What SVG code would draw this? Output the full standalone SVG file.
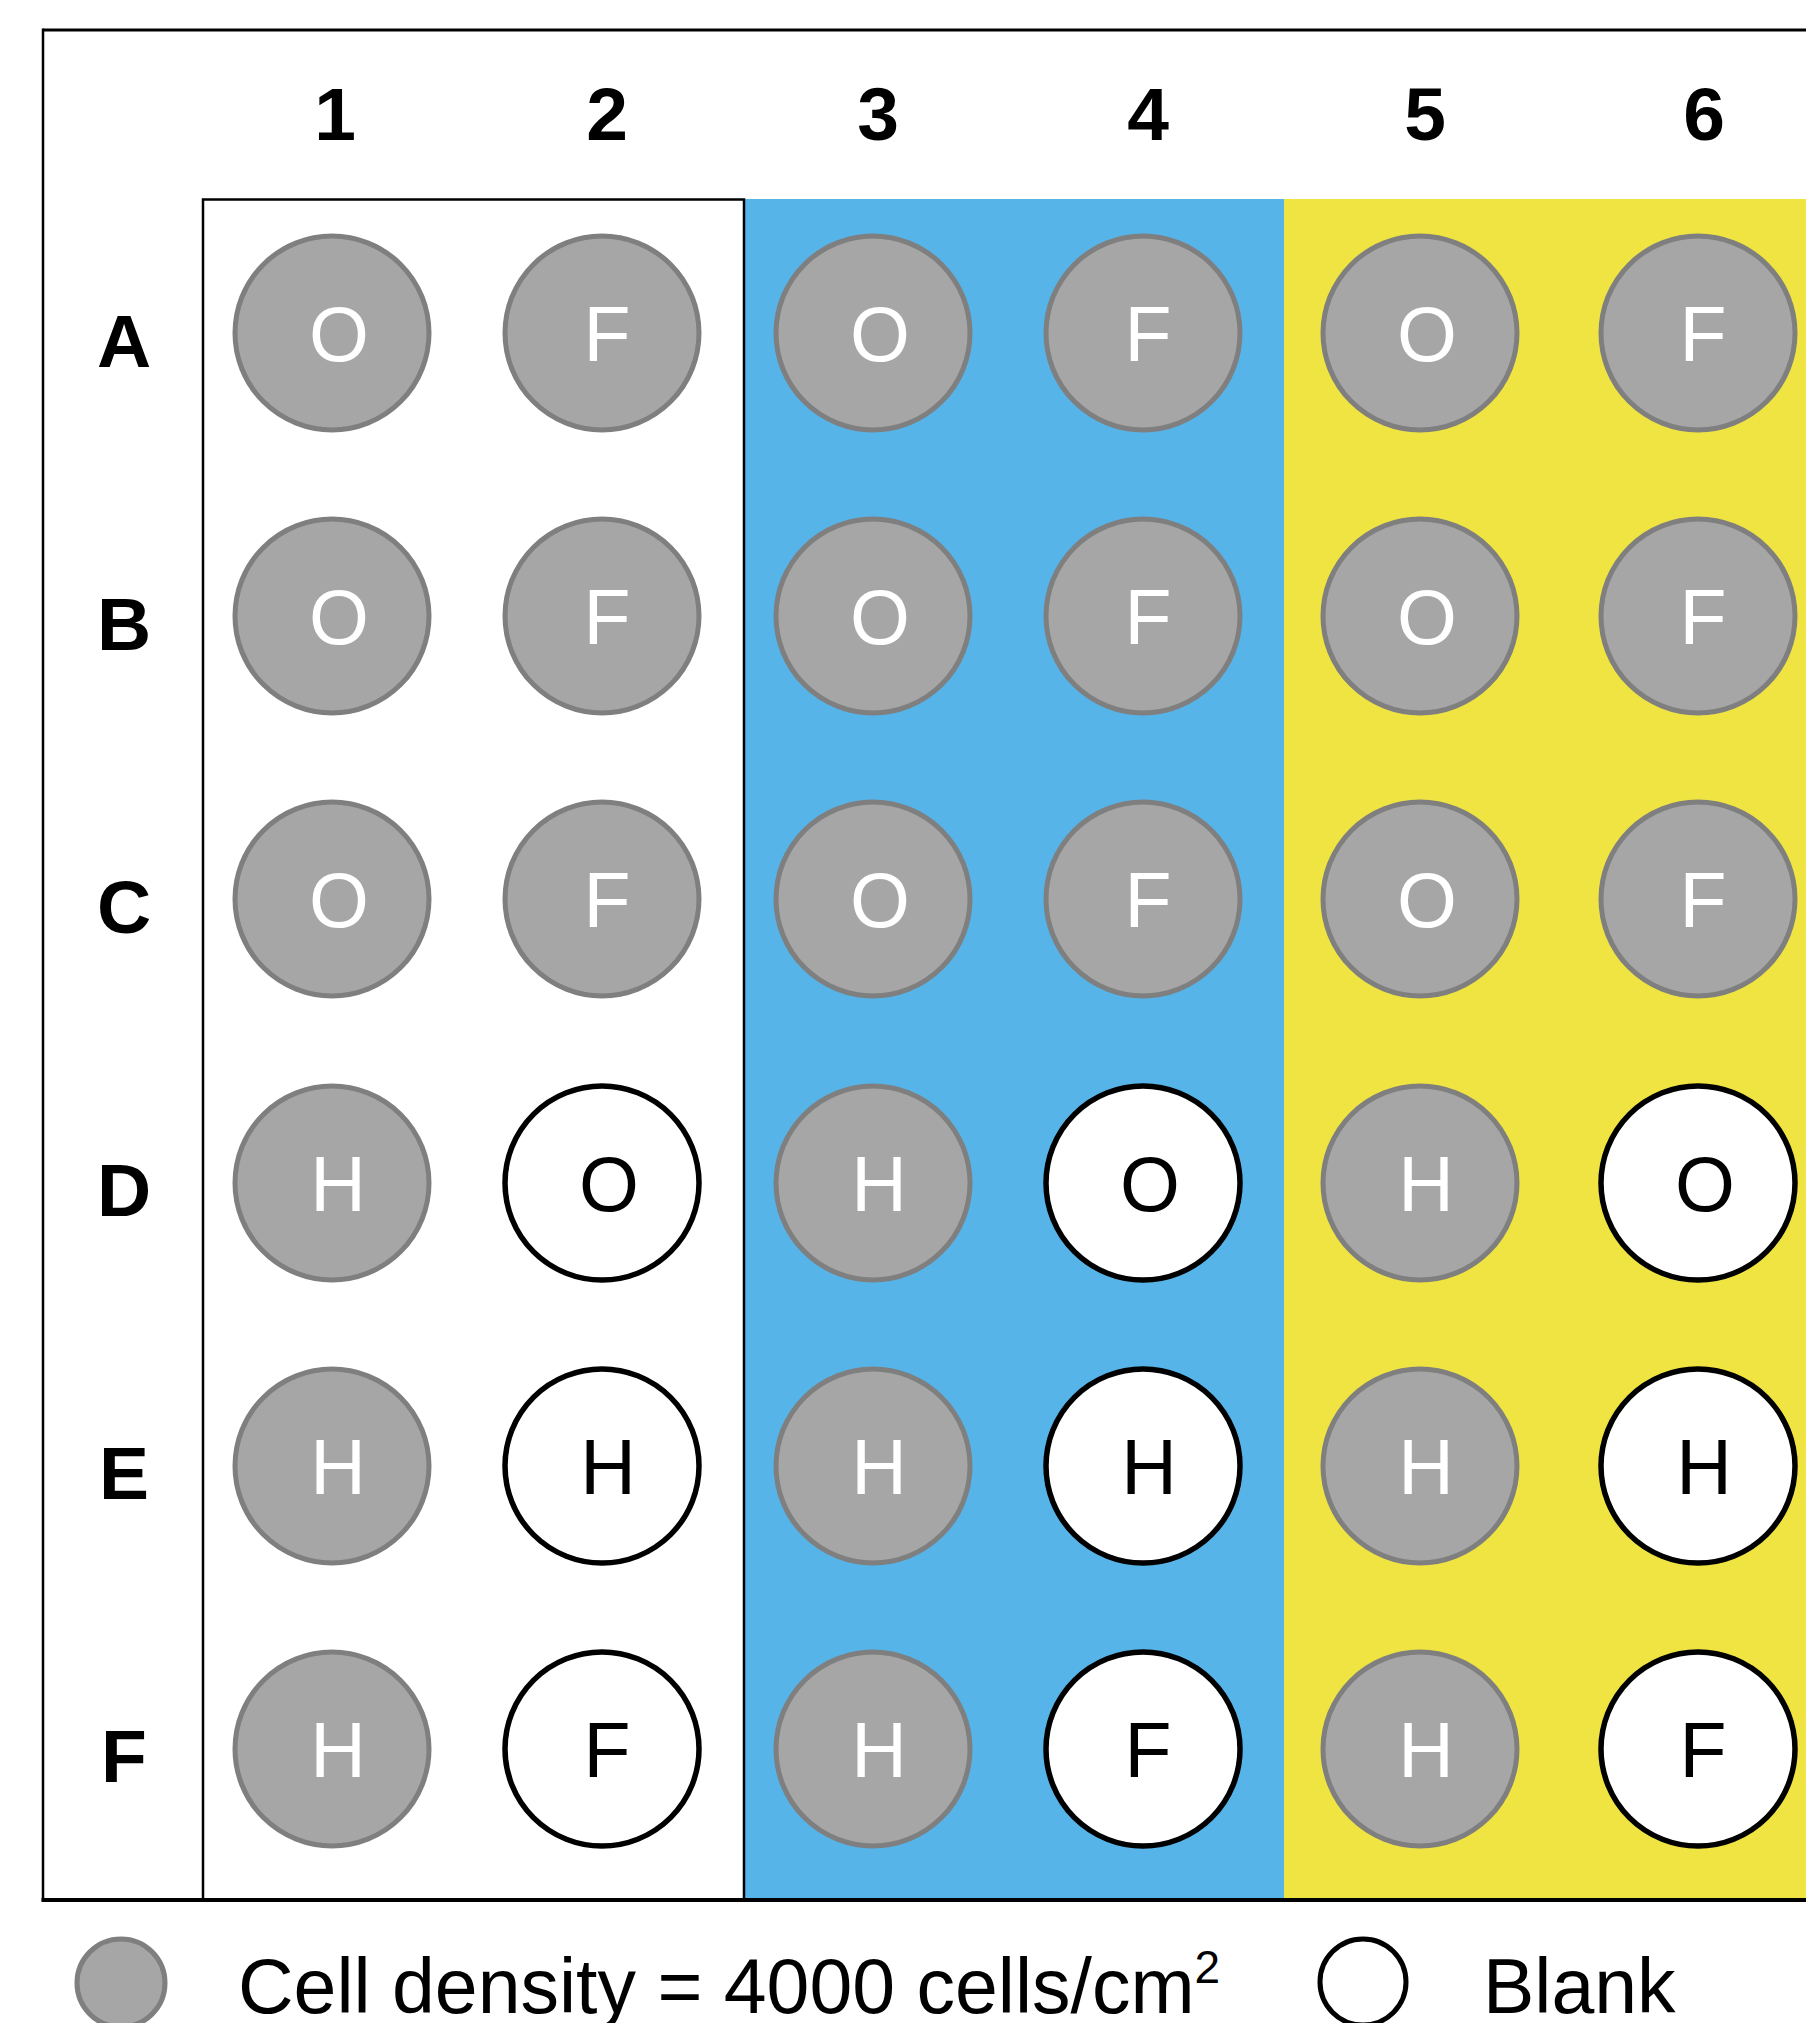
<svg xmlns="http://www.w3.org/2000/svg" width="1806" height="2023" viewBox="0 0 1806 2023">
<style>
.hdr{font-family:"Liberation Sans",Arial,sans-serif;font-weight:bold;font-size:75px;text-anchor:middle;fill:#000}
.w circle{fill:#a6a6a6;stroke:#7f7f7f;stroke-width:5}
.w text{font-family:"Liberation Sans",Arial,sans-serif;font-size:77px;text-anchor:middle;fill:#fff}
.b circle{fill:#fff;stroke:#000;stroke-width:5.5}
.b text{font-family:"Liberation Sans",Arial,sans-serif;font-size:77px;text-anchor:middle;fill:#000}
.leg{font-family:"Liberation Sans",Arial,sans-serif;font-size:77px;fill:#000}
</style>
<rect width="1806" height="2023" fill="#fff"/>
<g id="background">
<rect x="202" y="199" width="542" height="1701" fill="#fff"/>
<rect x="744" y="199" width="540" height="1701" fill="#56b4e8"/>
<rect x="1284" y="199" width="522" height="1701" fill="#f0e442"/>
</g>
<g id="frame" fill="none" stroke="#000">
<line x1="43" y1="30" x2="1806" y2="30" stroke-width="3"/>
<line x1="43" y1="28.5" x2="43" y2="1901" stroke-width="2.5"/>
<line x1="41.5" y1="1900" x2="1806" y2="1900" stroke-width="4"/>
<polyline points="203,1900 203,199.5 744,199.5 744,1900" stroke-width="2.5"/>
</g>
<g id="column-labels">
<text class="hdr" x="335" y="140">1</text>
<text class="hdr" x="607" y="140">2</text>
<text class="hdr" x="878" y="140">3</text>
<text class="hdr" x="1148" y="140">4</text>
<text class="hdr" x="1425" y="140">5</text>
<text class="hdr" x="1704" y="140">6</text>
</g>
<g id="row-labels">
<text class="hdr" x="124" y="367">A</text>
<text class="hdr" x="124" y="650">B</text>
<text class="hdr" x="124" y="933">C</text>
<text class="hdr" x="124" y="1216">D</text>
<text class="hdr" x="124" y="1499">E</text>
<text class="hdr" x="124" y="1782">F</text>
</g>
<g id="A1" class="w"><circle cx="332" cy="333" r="97"/><text x="339" y="361">O</text></g>
<g id="A2" class="w"><circle cx="602" cy="333" r="97"/><text x="607" y="361">F</text></g>
<g id="A3" class="w"><circle cx="873" cy="333" r="97"/><text x="880" y="361">O</text></g>
<g id="A4" class="w"><circle cx="1143" cy="333" r="97"/><text x="1148" y="361">F</text></g>
<g id="A5" class="w"><circle cx="1420" cy="333" r="97"/><text x="1427" y="361">O</text></g>
<g id="A6" class="w"><circle cx="1698" cy="333" r="97"/><text x="1703" y="361">F</text></g>
<g id="B1" class="w"><circle cx="332" cy="616" r="97"/><text x="339" y="644">O</text></g>
<g id="B2" class="w"><circle cx="602" cy="616" r="97"/><text x="607" y="644">F</text></g>
<g id="B3" class="w"><circle cx="873" cy="616" r="97"/><text x="880" y="644">O</text></g>
<g id="B4" class="w"><circle cx="1143" cy="616" r="97"/><text x="1148" y="644">F</text></g>
<g id="B5" class="w"><circle cx="1420" cy="616" r="97"/><text x="1427" y="644">O</text></g>
<g id="B6" class="w"><circle cx="1698" cy="616" r="97"/><text x="1703" y="644">F</text></g>
<g id="C1" class="w"><circle cx="332" cy="899" r="97"/><text x="339" y="927">O</text></g>
<g id="C2" class="w"><circle cx="602" cy="899" r="97"/><text x="607" y="927">F</text></g>
<g id="C3" class="w"><circle cx="873" cy="899" r="97"/><text x="880" y="927">O</text></g>
<g id="C4" class="w"><circle cx="1143" cy="899" r="97"/><text x="1148" y="927">F</text></g>
<g id="C5" class="w"><circle cx="1420" cy="899" r="97"/><text x="1427" y="927">O</text></g>
<g id="C6" class="w"><circle cx="1698" cy="899" r="97"/><text x="1703" y="927">F</text></g>
<g id="D1" class="w"><circle cx="332" cy="1183" r="97"/><text x="338" y="1211">H</text></g>
<g id="D2" class="b"><circle cx="602" cy="1183" r="97"/><text x="609" y="1211">O</text></g>
<g id="D3" class="w"><circle cx="873" cy="1183" r="97"/><text x="879" y="1211">H</text></g>
<g id="D4" class="b"><circle cx="1143" cy="1183" r="97"/><text x="1150" y="1211">O</text></g>
<g id="D5" class="w"><circle cx="1420" cy="1183" r="97"/><text x="1426" y="1211">H</text></g>
<g id="D6" class="b"><circle cx="1698" cy="1183" r="97"/><text x="1705" y="1211">O</text></g>
<g id="E1" class="w"><circle cx="332" cy="1466" r="97"/><text x="338" y="1494">H</text></g>
<g id="E2" class="b"><circle cx="602" cy="1466" r="97"/><text x="608" y="1494">H</text></g>
<g id="E3" class="w"><circle cx="873" cy="1466" r="97"/><text x="879" y="1494">H</text></g>
<g id="E4" class="b"><circle cx="1143" cy="1466" r="97"/><text x="1149" y="1494">H</text></g>
<g id="E5" class="w"><circle cx="1420" cy="1466" r="97"/><text x="1426" y="1494">H</text></g>
<g id="E6" class="b"><circle cx="1698" cy="1466" r="97"/><text x="1704" y="1494">H</text></g>
<g id="F1" class="w"><circle cx="332" cy="1749" r="97"/><text x="338" y="1777">H</text></g>
<g id="F2" class="b"><circle cx="602" cy="1749" r="97"/><text x="607" y="1777">F</text></g>
<g id="F3" class="w"><circle cx="873" cy="1749" r="97"/><text x="879" y="1777">H</text></g>
<g id="F4" class="b"><circle cx="1143" cy="1749" r="97"/><text x="1148" y="1777">F</text></g>
<g id="F5" class="w"><circle cx="1420" cy="1749" r="97"/><text x="1426" y="1777">H</text></g>
<g id="F6" class="b"><circle cx="1698" cy="1749" r="97"/><text x="1703" y="1777">F</text></g>
<g id="connectors"/>
<g id="legend">
<circle cx="121" cy="1983" r="44" fill="#a6a6a6" stroke="#7f7f7f" stroke-width="5"/>
<text class="leg" x="238" y="2013">Cell density = 4000 cells/cm<tspan font-size="46" dy="-30">2</tspan></text>
<circle cx="1363" cy="1982" r="43" fill="#fff" stroke="#000" stroke-width="5"/>
<text class="leg" x="1483" y="2013">Blank</text>
</g>
</svg>
